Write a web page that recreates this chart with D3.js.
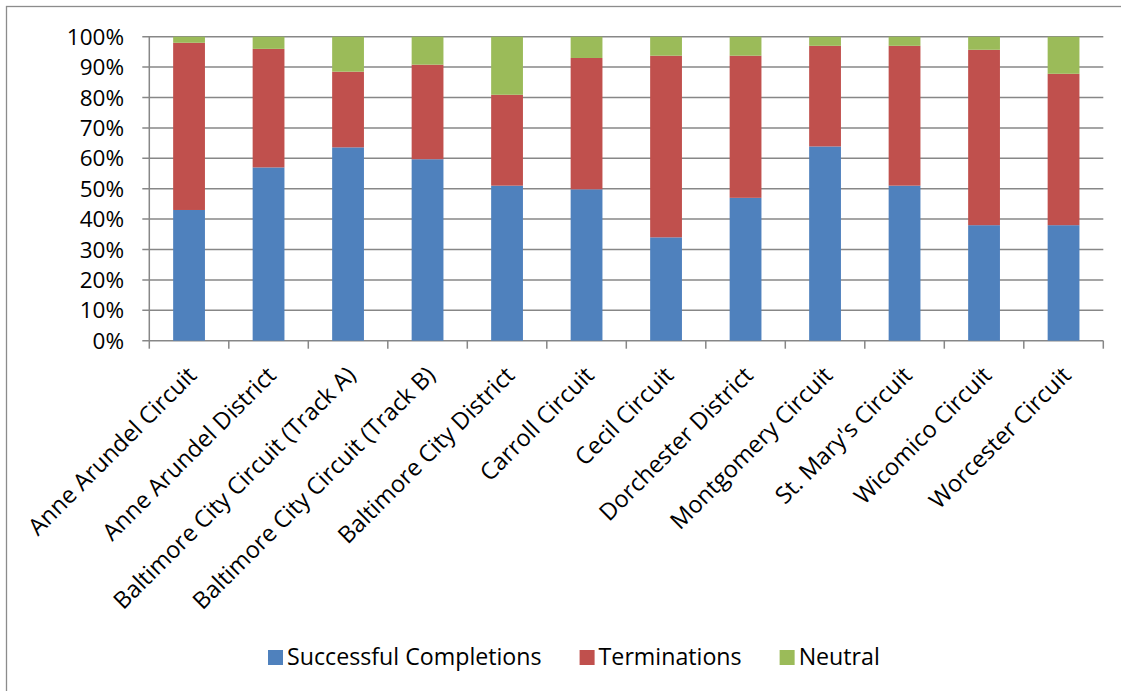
<!DOCTYPE html>
<html>
<head>
<meta charset="utf-8">
<script src="https://cdn.jsdelivr.net/npm/d3@7"></script>
<style>
  html, body { margin: 0; padding: 0; background: #ffffff; }
  svg { display: block; }
  text { font-family: "Open Sans", "Noto Sans", sans-serif; fill: #000; }
</style>
</head>
<body>
<svg id="chart" width="1121" height="691"></svg>
<script>
const categories = [
  "Anne Arundel Circuit",
  "Anne Arundel District",
  "Baltimore City Circuit (Track A)",
  "Baltimore City Circuit (Track B)",
  "Baltimore City District",
  "Carroll Circuit",
  "Cecil Circuit",
  "Dorchester District",
  "Montgomery Circuit",
  "St. Mary's Circuit",
  "Wicomico Circuit",
  "Worcester Circuit"
];
const successful   = [43, 57, 63.6, 59.7, 51, 49.8, 34, 47, 63.9, 51, 38, 38];
const terminations = [55, 39, 24.9, 31.1, 29.9, 43.2, 59.75, 46.75, 33.1, 46, 57.7, 49.8];
const neutral      = [2, 4, 11.5, 9.2, 19.1, 7, 6.25, 6.25, 3, 3, 4.3, 12.2];
const seriesNames  = ["Successful Completions", "Terminations", "Neutral"];
const seriesColors = ["#4f81bd", "#c0504d", "#9bbb59"];
const yTicks = [0, 10, 20, 30, 40, 50, 60, 70, 80, 90, 100];

(function () {
const svg = d3.select("#chart");
const gridColor = "#878787";
const axisFont = 22.5;
const catFont = 23.5;
const legendFont = 23.2;

// outer frame
svg.append("rect")
  .attr("x", 6.5).attr("y", 6.5)
  .attr("width", 1300).attr("height", 900)
  .attr("fill", "none").attr("stroke", "#8c8c8c").attr("stroke-width", 1.3);

const pLeft = 149.3, pRight = 1103.3, pTop = 36.7, pBottom = 340.7;

const x = d3.scaleBand().domain(categories).range([pLeft, pRight])
  .paddingInner(0.6).paddingOuter(0.3);
const y = d3.scaleLinear().domain([0, 100]).range([pBottom, pTop]);

// gridlines
svg.append("g").selectAll("line").data(yTicks).join("line")
  .attr("x1", pLeft - 7).attr("x2", pRight)
  .attr("y1", d => y(d)).attr("y2", d => y(d))
  .attr("stroke", gridColor).attr("stroke-width", 1.5);

// y axis line
svg.append("line")
  .attr("x1", pLeft).attr("x2", pLeft).attr("y1", pTop).attr("y2", pBottom)
  .attr("stroke", gridColor).attr("stroke-width", 1.5);

// y labels
svg.append("g").selectAll("text").data(yTicks).join("text")
  .attr("x", 124).attr("y", d => y(d) + 8)
  .attr("text-anchor", "end")
  .style("font-size", axisFont + "px")
  .text(d => d + "%");

// stacked bars
const rows = categories.map((c, i) => ({
  cat: c, s0: successful[i], s1: terminations[i], s2: neutral[i]
}));
const stacked = d3.stack().keys(["s0", "s1", "s2"])(rows);

svg.append("g").selectAll("g").data(stacked).join("g")
  .attr("fill", (d, i) => seriesColors[i])
  .selectAll("rect").data(d => d).join("rect")
  .attr("x", d => x(d.data.cat))
  .attr("width", x.bandwidth())
  .attr("y", d => y(d[1]))
  .attr("height", d => y(d[0]) - y(d[1]));

// x axis ticks (category boundaries)
const step = x.step();
const boundaries = d3.range(categories.length + 1).map(i => pLeft + i * step);
svg.append("g").selectAll("line").data(boundaries).join("line")
  .attr("x1", d => d).attr("x2", d => d)
  .attr("y1", pBottom).attr("y2", pBottom + 8)
  .attr("stroke", gridColor).attr("stroke-width", 1.5);

// x labels rotated
svg.append("g").selectAll("text").data(categories).join("text")
  .attr("text-anchor", "end")
  .attr("transform", d => `translate(${x(d) + x.bandwidth() / 2 + 9},${pBottom + 36}) rotate(-45)`)
  .style("font-size", catFont + "px")
  .text(d => d);

// legend
const legend = svg.append("g");
let lx = 268;
seriesNames.forEach((name, i) => {
  legend.append("rect")
    .attr("x", lx).attr("y", 650)
    .attr("width", 15).attr("height", 15)
    .attr("fill", seriesColors[i]);
  const t = legend.append("text")
    .attr("x", lx + 19).attr("y", 665)
    .style("font-size", legendFont + "px")
    .text(name);
  const w = t.node().getComputedTextLength();
  lx = lx + 19 + w + 38;
});
})();
</script>
</body>
</html>
